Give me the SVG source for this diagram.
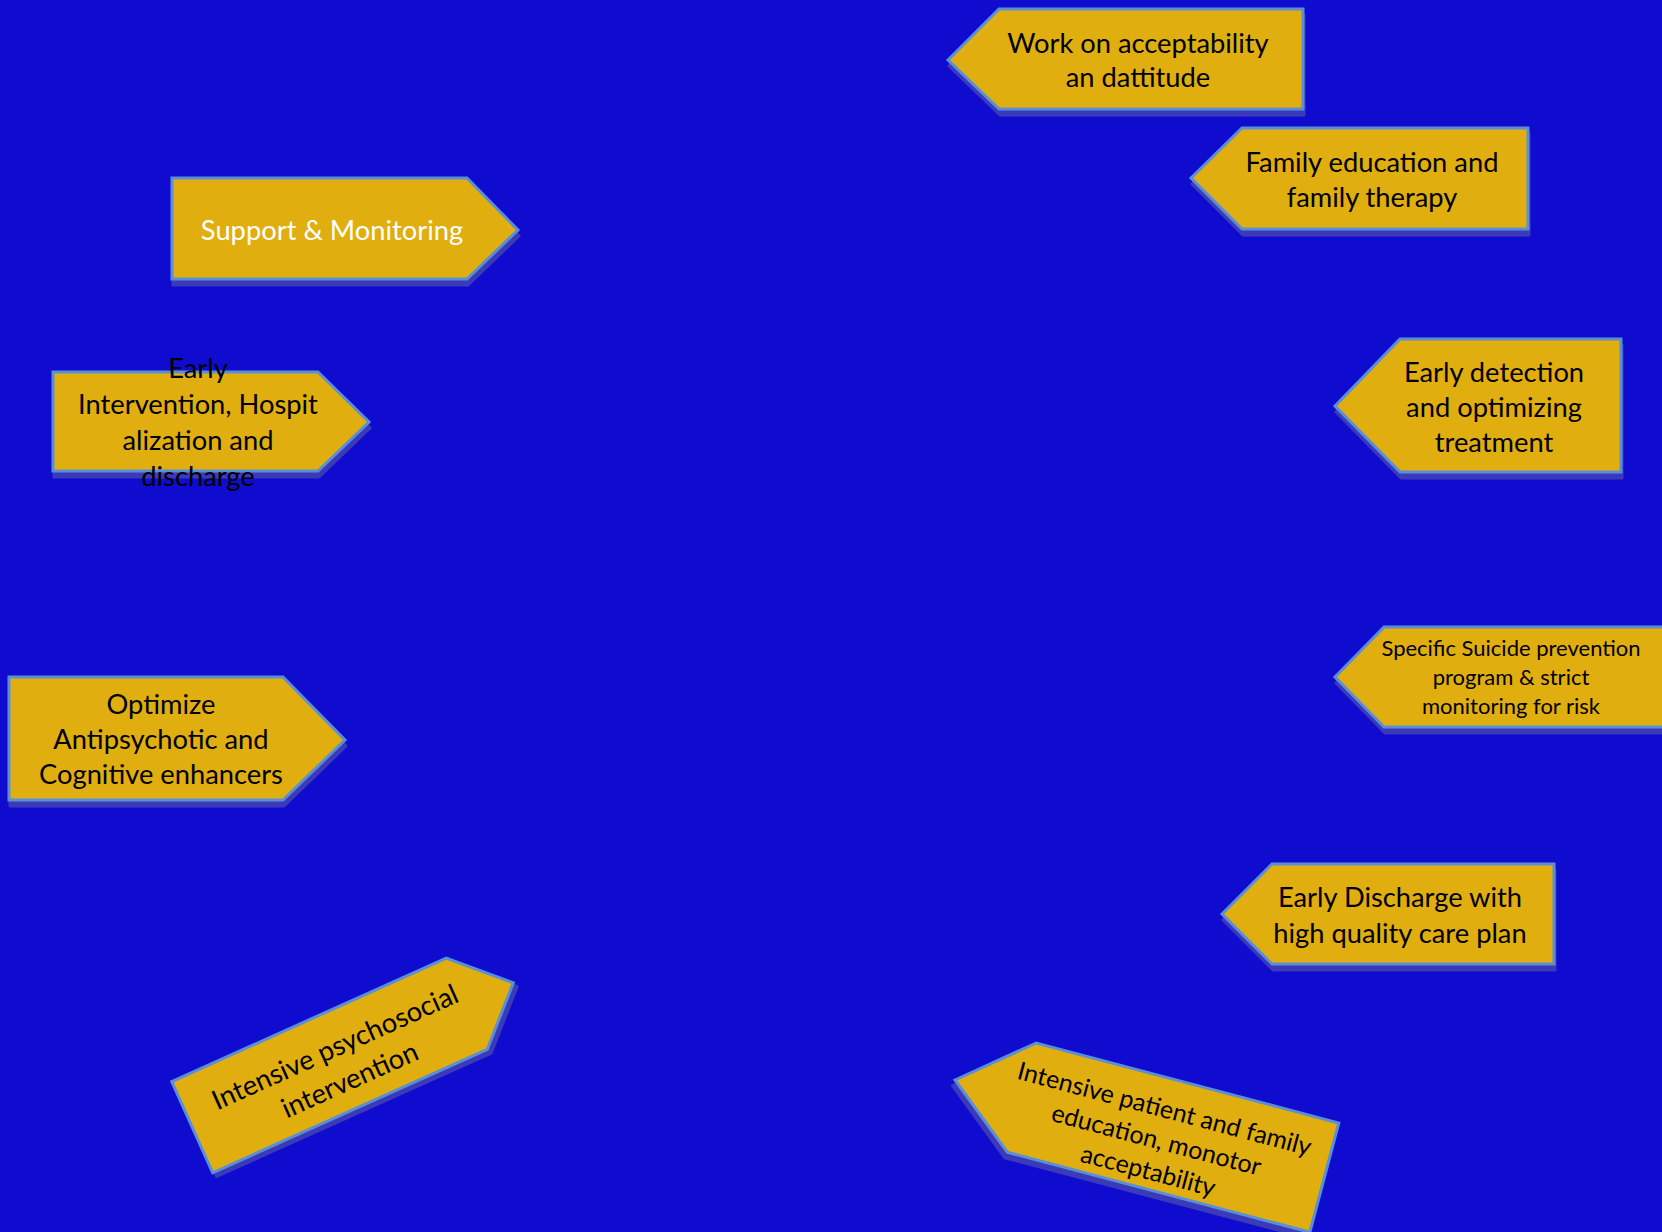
<svg xmlns="http://www.w3.org/2000/svg" width="1662" height="1232" viewBox="0 0 1662 1232">
<style>
.bg{fill:#100ccf}
.sh{fill:#3b3ab8;stroke:#3b3ab8;stroke-width:3;stroke-linejoin:round}
.box{fill:#e0ae0e;stroke:#5a8fd8;stroke-width:3;stroke-linejoin:miter}
.t{font-family:Lato,"Open Sans","Liberation Sans",sans-serif;font-size:27.3px;fill:#000;text-anchor:middle}
.w{fill:#fff}
.s{font-size:22px}
.m{font-size:25px}
</style>
<rect class="bg" x="0" y="0" width="1662" height="1232"/>

<g id="node-work">
<polygon class="sh" transform="translate(1,6)" points="948,60 999,9 1303,9 1303,109 999,109"/>
<polygon class="box" points="948,60 999,9 1303,9 1303,109 999,109"/>
<text class="t" x="1138" y="53">Work on acceptability</text>
<text class="t" x="1138" y="87">an dattitude</text>
</g>

<g id="node-family">
<polygon class="sh" transform="translate(1,6)" points="1191,178 1242,128 1528,128 1528,229 1242,229"/>
<polygon class="box" points="1191,178 1242,128 1528,128 1528,229 1242,229"/>
<text class="t" x="1372" y="172">Family education and</text>
<text class="t" x="1372" y="207">family therapy</text>
</g>

<g id="node-support">
<polygon class="sh" transform="translate(1,6)" points="172,178 467,178 518,230 467,279 172,279"/>
<polygon class="box" points="172,178 467,178 518,230 467,279 172,279"/>
<text class="t w" x="332" y="240">Support &amp; Monitoring</text>
</g>

<g id="node-early-intervention">
<polygon class="sh" transform="translate(1,6)" points="53,372 318,372 369,422 318,471 53,471"/>
<polygon class="box" points="53,372 318,372 369,422 318,471 53,471"/>
<text class="t" x="198" y="378">Early</text>
<text class="t" x="198" y="414">Intervention, Hospit</text>
<text class="t" x="198" y="450">alization and</text>
<text class="t" x="198" y="486">discharge</text>
</g>

<g id="node-early-detection">
<polygon class="sh" transform="translate(1,6)" points="1335,406 1400,339 1621,339 1621,472 1400,472"/>
<polygon class="box" points="1335,406 1400,339 1621,339 1621,472 1400,472"/>
<text class="t" x="1494" y="382">Early detection</text>
<text class="t" x="1494" y="417">and optimizing</text>
<text class="t" x="1494" y="452">treatment</text>
</g>

<g id="node-suicide">
<polygon class="sh" transform="translate(1,6)" points="1335,677 1384,627 1672,627 1672,727 1384,727"/>
<polygon class="box" points="1335,677 1384,627 1672,627 1672,727 1384,727"/>
<text class="t s" x="1511" y="656">Specific Suicide prevention</text>
<text class="t s" x="1511" y="685">program &amp; strict</text>
<text class="t s" x="1511" y="714">monitoring for risk</text>
</g>

<g id="node-optimize">
<polygon class="sh" transform="translate(1,6)" points="9,677 283,677 345,740 283,800 9,800"/>
<polygon class="box" points="9,677 283,677 345,740 283,800 9,800"/>
<text class="t" x="161" y="714">Optimize</text>
<text class="t" x="161" y="749">Antipsychotic and</text>
<text class="t" x="161" y="784">Cognitive enhancers</text>
</g>

<g id="node-early-discharge">
<polygon class="sh" transform="translate(1,6)" points="1222,914 1272,864 1554,864 1554,964 1272,964"/>
<polygon class="box" points="1222,914 1272,864 1554,864 1554,964 1272,964"/>
<text class="t" x="1400" y="907">Early Discharge with</text>
<text class="t" x="1400" y="943">high quality care plan</text>
</g>

<g id="node-psychosocial" transform="translate(352.75,1055) rotate(-24.2)">
<polygon class="sh" transform="translate(2,5)" points="-176,-50 125,-50 176,0 125,50 -176,50"/>
<polygon class="box" points="-176,-50 125,-50 176,0 125,50 -176,50"/>
<text class="t" x="-13" y="-5">Intensive psychosocial</text>
<text class="t" x="-13" y="31">intervention</text>
</g>

<g id="node-patient-education" transform="translate(955,1080) rotate(14.8)">
<polygon class="sh" transform="translate(-1,6)" points="0,0 69,-56.5 382,-56.5 382,56.5 69,56.5"/>
<polygon class="box" points="0,0 69,-56.5 382,-56.5 382,56.5 69,56.5"/>
<text class="t m" x="210" y="-17">Intensive patient and family</text>
<text class="t m" x="210" y="15">education, monotor</text>
<text class="t m" x="210" y="47">acceptability</text>
</g>

<g id="connectors"></g>
</svg>
